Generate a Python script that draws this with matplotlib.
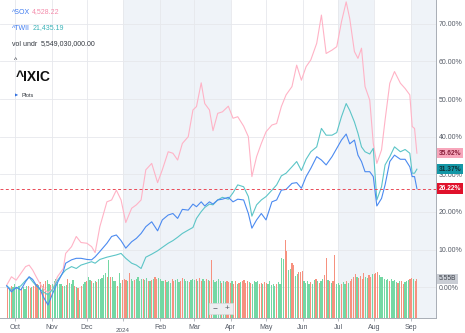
import pandas as pd
import matplotlib
matplotlib.use('Agg')
import matplotlib.pyplot as plt
import matplotlib.dates as mdates
import matplotlib.ticker as ticker

plt.rcParams['font.family'] = ['Liberation Sans', 'DejaVu Sans']

# ---- line data: % change since start ----
line_dates = [
    '2023-09-24', '2023-09-28', '2023-10-02', '2023-10-06', '2023-10-10', '2023-10-13', '2023-10-16', '2023-10-19',
    '2023-10-22', '2023-10-25', '2023-10-29', '2023-11-02', '2023-11-06', '2023-11-11', '2023-11-13', '2023-11-18',
    '2023-11-22', '2023-11-26', '2023-12-01', '2023-12-05', '2023-12-08', '2023-12-12', '2023-12-18', '2023-12-22',
    '2023-12-26', '2023-12-30', '2024-01-03', '2024-01-08', '2024-01-12', '2024-01-16', '2024-01-20', '2024-01-25',
    '2024-01-30', '2024-02-03', '2024-02-08', '2024-02-12', '2024-02-16', '2024-02-20', '2024-02-25', '2024-02-29',
    '2024-03-03', '2024-03-07', '2024-03-10', '2024-03-14', '2024-03-17', '2024-03-21', '2024-03-25', '2024-03-30',
    '2024-04-03', '2024-04-07', '2024-04-12', '2024-04-16', '2024-04-19', '2024-04-23', '2024-04-27', '2024-05-01',
    '2024-05-06', '2024-05-10', '2024-05-14', '2024-05-18', '2024-05-23', '2024-05-27', '2024-05-31', '2024-06-04',
    '2024-06-08', '2024-06-13', '2024-06-17', '2024-06-21', '2024-06-26', '2024-06-30', '2024-07-04', '2024-07-08',
    '2024-07-11', '2024-07-15', '2024-07-18', '2024-07-21', '2024-07-24', '2024-07-28', '2024-07-31', '2024-08-03',
    '2024-08-07', '2024-08-10', '2024-08-14', '2024-08-18', '2024-08-23', '2024-08-27', '2024-08-31', '2024-09-02',
    '2024-09-04', '2024-09-06']

sox_pct = [0.6, 2.8, 1.9, 3.7, 5.5, 5.9, 4.6, 2.8, 1.1, -0.3,
           -1.4, -0.5, 2.8, 5.0, 9.0, 10.8, 13.5, 11.9, 11.7, 10.8,
           9.2, 16.1, 22.7, 23.2, 25.8, 23.2, 17.2, 21.0, 21.9, 23.2,
           31.2, 32.9, 27.8, 31.2, 36.0, 35.6, 33.8, 38.2, 40.0, 47.1,
           48.0, 54.3, 48.8, 47.1, 41.6, 46.2, 46.6, 48.1, 44.9, 45.3,
           42.8, 40.0, 29.4, 34.7, 38.2, 41.3, 43.1, 43.5, 48.0, 51.1,
           53.3, 59.0, 55.0, 58.6, 60.4, 64.8, 72.3, 62.1, 63.0, 63.9,
           70.5, 75.8, 71.4, 62.6, 60.8, 63.5, 53.3, 49.7, 38.2, 32.9,
           36.5, 44.4, 54.2, 57.3, 54.2, 52.8, 51.1, 42.7, 42.2, 35.62]

twii_pct = [0.4, -0.7, -0.3, 0.4, 1.8, 2.7, 1.5, 0.4, -0.5, -1.2,
            -2.0, -0.5, 1.8, 3.9, 4.6, 5.5, 5.0, 5.9, 6.4, 6.8,
            6.4, 7.4, 8.0, 8.3, 8.6, 9.0, 7.7, 6.4, 5.9, 5.0,
            8.0, 8.8, 9.7, 10.6, 11.7, 12.4, 13.3, 14.3, 15.2, 15.9,
            18.3, 20.1, 21.2, 22.1, 21.9, 23.2, 23.9, 23.4, 25.1, 27.2,
            26.7, 24.1, 18.9, 21.9, 23.2, 24.1, 25.8, 27.2, 29.6, 30.3,
            32.0, 33.4, 31.0, 34.0, 36.0, 37.3, 42.2, 40.4, 40.4, 41.1,
            45.3, 48.8, 47.0, 43.9, 40.9, 37.3, 36.0, 35.4, 36.9, 23.2,
            26.7, 32.5, 34.7, 37.3, 36.0, 36.6, 35.6, 30.3, 30.3, 31.37]

ixic_pct = [0.4, -1.2, 0.0, -0.7, 1.5, 2.8, 2.1, 0.6, -0.3, -2.5,
            -4.7, -1.6, 1.2, 4.2, 6.4, 7.3, 7.7, 7.7, 7.4, 7.3,
            8.1, 9.5, 11.7, 13.5, 13.9, 12.4, 10.4, 12.1, 13.0, 14.3,
            16.1, 17.4, 15.0, 17.9, 19.2, 19.6, 18.3, 20.7, 20.5, 22.1,
            21.4, 22.7, 21.6, 22.7, 22.1, 23.2, 23.4, 23.9, 22.7, 23.4,
            23.2, 19.6, 15.7, 17.9, 19.6, 17.9, 22.7, 23.2, 25.8, 26.0,
            27.6, 27.8, 26.3, 29.4, 31.6, 34.7, 33.8, 32.5, 34.7, 36.9,
            39.1, 40.7, 38.1, 39.1, 35.1, 33.4, 30.7, 30.7, 29.4, 21.6,
            23.6, 27.2, 33.4, 35.1, 34.0, 34.0, 32.0, 29.4, 29.4, 26.22]

# ---- daily volume (billions), one row per month, Sep 25 2023 .. Sep 6 2024 ----
volume_b = [
    4.3, 4.2, 4.5, 4.4, 4.8,
    4.3, 4.6, 4.5, 4.2, 4.4, 4.1, 4.5, 4.6, 4.3, 4.4, 4.6, 4.8, 4.9, 4.7, 5.1, 4.6, 4.8, 5.2, 5.4, 4.9, 4.7, 4.9,
    5.3, 5.5, 5.0, 4.8, 4.9, 4.6, 4.5, 4.7, 5.6, 5.0, 4.9, 5.4, 4.6, 4.4, 4.3, 2.6, 4.6, 4.8, 5.1, 5.2, 5.8,
    5.4, 5.2, 5.0, 5.3, 5.1, 5.6, 5.5, 5.7, 6.1, 6.4, 5.9, 8.3, 5.8, 5.9, 5.3, 5.2, 4.6, 6.4, 5.0, 5.4,
    5.6, 5.4, 5.3, 6.4, 5.5, 5.2, 5.4, 5.6, 5.8, 5.3, 5.6, 5.5, 5.4, 5.7, 5.3, 5.2, 5.4, 5.6, 5.8, 5.5, 5.7,
    5.5, 5.3, 5.2, 5.4, 5.1, 5.3, 5.0, 5.6, 5.2, 5.4, 5.5, 5.1, 5.3, 5.7, 5.6, 5.2, 5.3, 5.1, 5.4, 5.6,
    5.4, 5.6, 5.3, 5.7, 5.2, 5.5, 5.3, 5.6, 5.4, 5.2, 8.3, 5.4, 5.1, 5.3, 5.5, 5.2, 5.0, 5.3, 5.1, 5.2,
    5.1, 5.0, 5.2, 4.9, 5.3, 4.8, 5.0, 5.1, 5.2, 5.4, 5.0, 5.3, 5.1, 5.0, 4.9, 5.2, 5.1, 5.3, 4.8, 5.0, 4.9, 5.1,
    5.0, 4.8, 5.2, 4.7, 4.9, 4.6, 4.8, 5.1, 4.9, 8.5, 8.4, 11.1, 9.5, 6.9, 7.0, 7.8, 7.6, 6.0, 6.2, 6.6, 6.5, 6.7,
    5.2, 5.0, 5.3, 4.9, 5.1, 4.8, 5.4, 5.6, 5.2, 5.0, 5.3, 5.5, 6.1, 8.6, 5.4, 5.2, 5.0, 5.3, 8.9,
    4.9, 5.0, 4.7, 4.8, 5.1, 4.9, 5.3, 5.0, 5.2, 5.5, 5.8, 6.2, 5.9, 5.7, 6.0, 5.6, 6.4, 5.8, 5.7, 6.1, 5.9, 6.3,
    6.2, 6.4, 6.6, 6.1, 5.9, 5.8, 5.6, 5.4, 5.5, 5.3, 5.6, 5.2, 5.4, 5.1, 5.0, 5.3, 5.2, 4.9, 5.1, 5.3, 5.4, 5.6,
    5.7, 5.5, 5.2, 5.55]
# g = up day, r = down day
day_dir = ('rgrgg' 'gggrgggrrgrrrgrgrrggrg' 'gggggrggrgggrgrgrggrg' 'grggrgggggrgrgggrggr'
           'rrgrggrggggrggrgrgrrg' 'gggrgggrrgggrrgggrgg' 'grgrrggrgrrgggggrggr'
           'rrgrrgrgrrrrgrggggrrgr' 'rgggggrggggrrggrrggrrr' 'ggggrggrgrggrrgrgrr'
           'gggrggrgrrrrgrrrrggrrg' 'rrrggggggrggggrgrrgggr' 'rgrr')

shade_spans = [('2024-01-01', '2024-04-01'), ('2024-07-01', '2024-08-01'), ('2024-09-01', '2024-09-23')]
pct_ticks = [0, 10, 20, 30, 40, 50, 60, 70]

dates = pd.to_datetime(line_dates)
# the chart spaces sessions evenly, so bars sit on an even grid
vol_dates = pd.date_range('2023-09-25', '2024-09-06', periods=len(volume_b))

# ---- figure, 465x333 px ----
W, H = 465, 333
fig = plt.figure(figsize=(W / 100, H / 100), dpi=100)
rect = [0, 15 / H, 436 / W, 318 / H]
xlim = (pd.Timestamp('2023-09-18 07:00'), pd.Timestamp('2024-09-22 05:00'))
ylim = (-8.15, 76.3)

# background: shading + grid
axbg = fig.add_axes(rect)
axbg.set_xlim(xlim)
axbg.set_ylim(ylim)
for a, b in shade_spans:
    axbg.axvspan(pd.Timestamp(a), pd.Timestamp(b), color='#eff3f8', lw=0)
axbg.xaxis.set_major_locator(mdates.MonthLocator())
axbg.yaxis.set_major_locator(ticker.FixedLocator(pct_ticks))
axbg.grid(True, color='#e6e8ec', lw=0.6)
axbg.tick_params(length=0, labelleft=False, labelbottom=False)
for s in axbg.spines.values():
    s.set_visible(False)

# volume bars
axv = fig.add_axes(rect)
axv.patch.set_visible(False)
bar_colors = ['#74d8a4' if c == 'g' else '#f6917f' for c in day_dir]
axv.bar(vol_dates, volume_b, width=1.0, color=bar_colors, lw=0)
axv.set_xlim(xlim)
axv.set_ylim(0, 5.55 * 318 / 39)
axv.axis('off')

# lines
ax = fig.add_axes(rect)
ax.patch.set_visible(False)
ax.plot(dates, sox_pct, color='#ffb3c6', lw=0.8)
ax.plot(dates, twii_pct, color='#5cc5c7', lw=0.8)
ax.plot(dates, ixic_pct, color='#4b8af0', lw=0.8)
ax.axhline(ixic_pct[-1], color='#ea4a57', lw=0.7, ls=(0, (3, 2.5)))
ax.set_xlim(xlim)
ax.set_ylim(ylim)

ax.yaxis.tick_right()
ax.yaxis.set_major_locator(ticker.FixedLocator(pct_ticks))
ax.yaxis.set_major_formatter(ticker.FuncFormatter(lambda v, p: f'{v:.2f}%'))
ax.tick_params(axis='y', length=0, pad=2, labelsize=5, labelcolor='#555b66')

ax.xaxis.set_major_locator(mdates.MonthLocator())
ax.xaxis.set_major_formatter(ticker.FuncFormatter(
    lambda v, p: '' if mdates.num2date(v).month == 1 else mdates.num2date(v).strftime('%b')))
ax.tick_params(axis='x', length=2, width=0.5, color='#9aa0a8', pad=2, labelsize=5, labelcolor='#555b66')
for side in ['left', 'top']:
    ax.spines[side].set_visible(False)
for side in ['right', 'bottom']:
    ax.spines[side].set_color('#a8adb5')
    ax.spines[side].set_linewidth(0.7)
fig.text(123 / W, 0.5 / H, '2024', ha='center', va='bottom', fontsize=4.5, color='#555b66')

# last-value tags on the right axis
tags = [(sox_pct[-1], f'{sox_pct[-1]:.2f}%', '#f7a6bb', '#8a1f3a'),
        (twii_pct[-1], f'{twii_pct[-1]:.2f}%', '#1497a6', '#0d2f35'),
        (ixic_pct[-1], f'{ixic_pct[-1]:.2f}%', '#e0112b', 'white')]
for val, txt, bg, fg in tags:
    ax.annotate(txt, xy=(1.0, val), xycoords=('axes fraction', 'data'), xytext=(2.2, 0),
                textcoords='offset points', ha='left', va='center', fontsize=4.8, color=fg,
                fontweight='bold',
                bbox=dict(boxstyle='square,pad=0.25', fc=bg, ec='none'))
axv.annotate(f'{volume_b[-1]:.2f}B', xy=(1.0, volume_b[-1]),
             xycoords=('axes fraction', 'data'), xytext=(2.2, 0), textcoords='offset points',
             ha='left', va='center', fontsize=4.8, color='#3c4048',
             bbox=dict(boxstyle='square,pad=0.25', fc='#c9cdd4', ec='none'))

# header / legend texts (pixel positions)
def fx(x):
    return x / W

def fy(y):
    return 1 - y / H

fig.text(fx(12), fy(12), '^SOX', fontsize=5, color='#3f7bf0', va='center')
fig.text(fx(32), fy(12), '4,528.22', fontsize=5, color='#f48cab', va='center')
fig.text(fx(12), fy(28), '^TWII', fontsize=5, color='#3f7bf0', va='center')
fig.text(fx(32.5), fy(28), '21,435.19', fontsize=5, color='#3bb3b8', va='center')
fig.text(fx(12), fy(44), 'vol undr', fontsize=5, color='#333840', va='center')
fig.text(fx(40.5), fy(44), '5,549,030,000.00', fontsize=5, color='#333840', va='center')
fig.text(fx(14), fy(60), '^', fontsize=5, color='#333840', va='center')
fig.text(fx(15.5), fy(77), '^IXIC', fontsize=10, fontweight='bold', color='#111111', va='center')
fig.text(fx(15), fy(96), '\u25b6', fontsize=3, color='#2f6fe0', va='center', family='DejaVu Sans')
fig.text(fx(21.5), fy(96), 'Plots', fontsize=4, color='#333840', va='center')

# zoom buttons
fig.patches.append(plt.Rectangle((fx(209), fy(314)), 24 / W, 11 / H, transform=fig.transFigure,
                                 fc='#eceef1', ec='#d6d9de', lw=0.5))
fig.text(fx(215), fy(308.5), '\u2212', fontsize=6, color='#555b66', ha='center', va='center')
fig.text(fx(227), fy(308.5), '+', fontsize=6, color='#555b66', ha='center', va='center')

fig.savefig('out.png', dpi=100)
